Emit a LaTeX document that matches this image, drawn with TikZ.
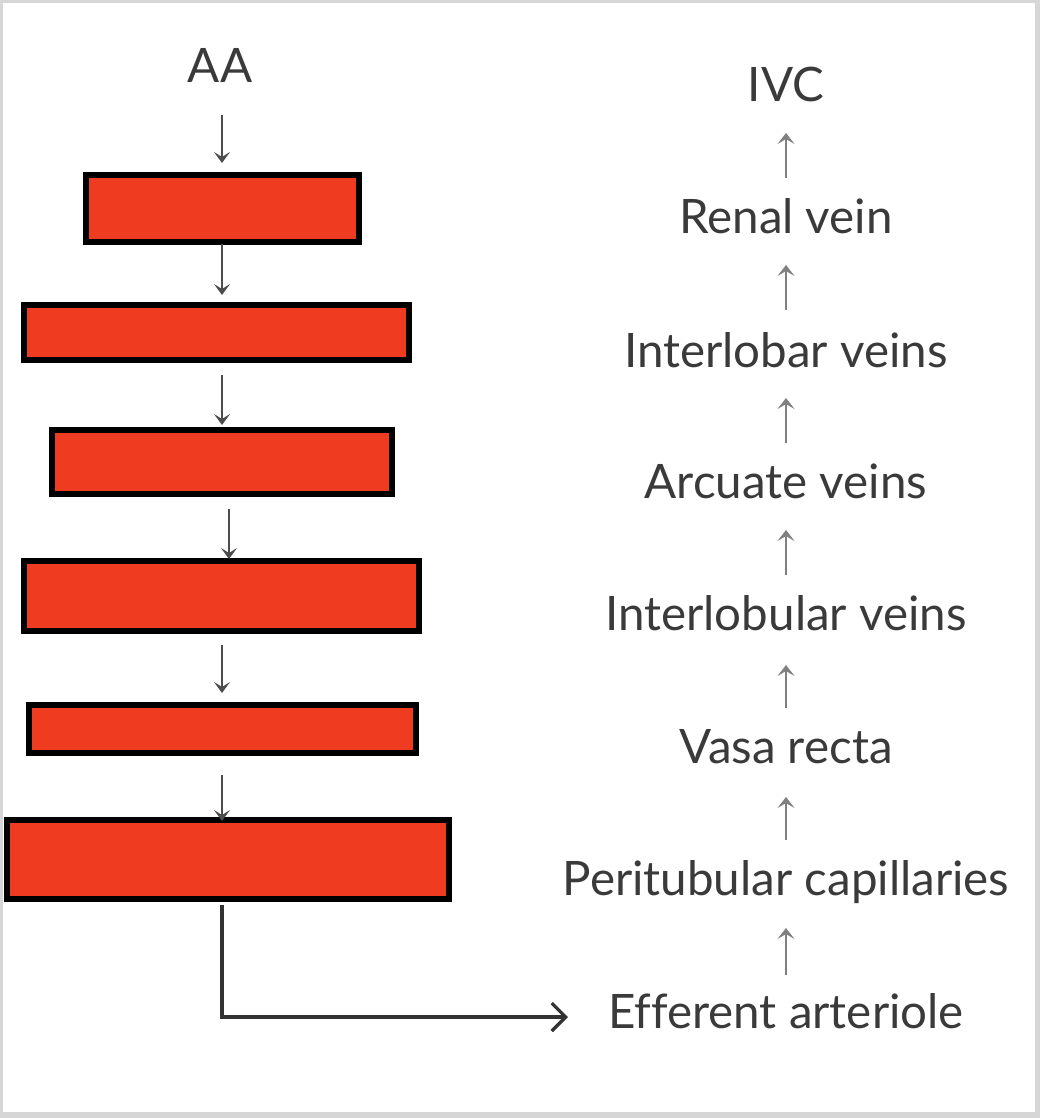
\documentclass[tikz,border=0pt]{standalone}
\usepackage{fontspec}
\setmainfont{Lato}[Ligatures=CommonOff]
\usetikzlibrary{arrows.meta}
\definecolor{boxred}{RGB}{239,59,31}
\definecolor{txtgray}{RGB}{58,58,58}
\definecolor{framegray}{RGB}{214,214,214}
\begin{document}
\begin{tikzpicture}[x=1pt,y=-1pt,
  redbox/.style={draw=black,line width=6pt,fill=boxred,inner sep=0pt,outer sep=0pt},
  lbl/.style={font=\fontsize{47.5}{54}\selectfont,text=txtgray,inner sep=0pt,anchor=base},
  larr/.style={draw=black!70,line width=1.5pt,-{Stealth[length=11pt,width=16pt,inset=5pt]}},
  rarr/.style={draw=black!50,line width=2pt,-{Stealth[length=11pt,width=17pt,inset=5pt]}},
  barr/.style={draw=black!80,line width=3.2pt,-{Straight Barb[length=14pt,width=28pt,line width=3.2pt]}}
]
% frame
\fill[framegray] (0,0) rectangle (1040,1118);
\fill[white] (3,3) rectangle (1035,1112);
\useasboundingbox (0,0) rectangle (1040,1118);

% left column
\node[lbl] (aa) at (220,83) {AA};
\node[redbox,minimum width=273pt,minimum height=67pt] (b1) at (222.5,208.5) {};
\node[redbox,minimum width=385pt,minimum height=55pt] (b2) at (216.5,332.5) {};
\node[redbox,minimum width=340pt,minimum height=64pt] (b3) at (222,462) {};
\node[redbox,minimum width=395pt,minimum height=70pt] (b4) at (221.5,596) {};
\node[redbox,minimum width=387pt,minimum height=48pt] (b5) at (222.5,729) {};
\node[redbox,minimum width=442pt,minimum height=79pt] (b6) at (228,859.5) {};

\coordinate (lx) at (222,0);
\coordinate (lxb) at (229,0);
\draw[larr] ([yshift=-32pt]aa.base -| lx) -- ([yshift=12pt]b1.north -| lx);
\draw[larr] ([yshift=-2pt]b1.south -| lx) -- ([yshift=10pt]b2.north -| lx);
\draw[larr] ([yshift=-15pt]b2.south -| lx) -- ([yshift=5pt]b3.north -| lx);
\draw[larr] ([yshift=-15pt]b3.south -| lxb) -- ([yshift=2pt]b4.north -| lxb);
\draw[larr] ([yshift=-14pt]b4.south -| lx) -- ([yshift=12pt]b5.north -| lx);
\draw[larr] ([yshift=-22pt]b5.south -| lx) -- ([yshift=-1pt]b6.north -| lx);

% right column
\node[lbl] (ivc) at (786,102) {IVC};
\node[lbl] (rv) at (786,233) {Renal vein};
\node[lbl] (ilb) at (786,367) {Interlobar veins};
\node[lbl] (arc) at (786,498) {Arcuate veins};
\node[lbl] (ilu) at (786,630) {Interlobular veins};
\node[lbl] (vr) at (786,763) {Vasa recta};
\node[lbl] (pc) at (786,895) {Peritubular capillaries};
\node[lbl] (ea) at (786,1028) {Efferent arteriole};

\draw[rarr] ([yshift=55pt]rv.base) -- ([yshift=-31pt]ivc.base);
\draw[rarr] ([yshift=57pt]ilb.base) -- ([yshift=-32pt]rv.base);
\draw[rarr] ([yshift=55pt]arc.base) -- ([yshift=-31pt]ilb.base);
\draw[rarr] ([yshift=55pt]ilu.base) -- ([yshift=-32pt]arc.base);
\draw[rarr] ([yshift=55pt]vr.base) -- ([yshift=-35pt]ilu.base);
\draw[rarr] ([yshift=55pt]pc.base) -- ([yshift=-34pt]vr.base);
\draw[rarr] ([yshift=53pt]ea.base) -- ([yshift=-33pt]pc.base);

% bottom connector
\coordinate (corner) at (222,1017);
\coordinate (eatip) at (568,1017);
\draw[barr] ([yshift=-6pt]b6.south -| corner) -- (corner) -- (eatip);
\end{tikzpicture}
\end{document}
